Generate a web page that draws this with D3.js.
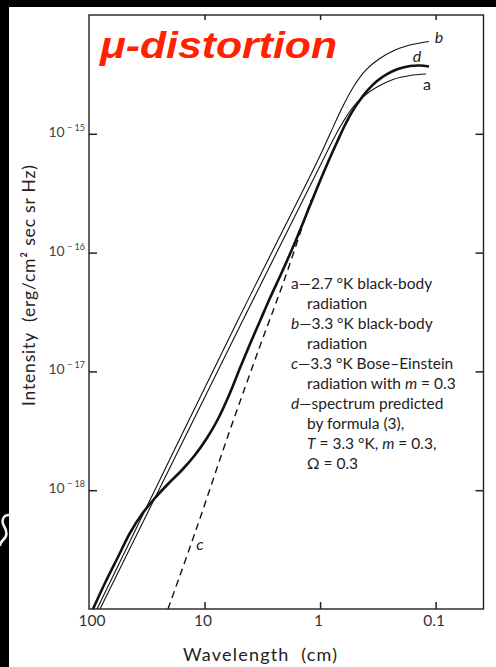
<!DOCTYPE html>
<html><head><meta charset="utf-8">
<script src="https://cdn.jsdelivr.net/npm/d3@7"></script>
<style>body{margin:0;background:#fff} svg{display:block}</style>
</head><body><svg id="chart" width="496" height="667"></svg>
<script>
// ---- data (wavelength in cm, intensity in erg/cm^2 sec sr Hz) ----
const wavelengthA = [80.30, 4.647, 0.9435, 0.7729, 0.6332, 0.5188, 0.4167, 0.3216, 0.2339, 0.1666, 0.1212];
const intensityA  = [1.0e-19, 2.707e-17, 6.018e-16, 8.867e-16, 1.256e-15, 1.681e-15, 2.081e-15, 2.477e-15, 2.864e-15, 3.095e-15, 3.186e-15];

const wavelengthB = [85.25, 5.133, 1.042, 0.8207, 0.6459, 0.5087, 0.4005, 0.3091, 0.2339, 0.1734, 0.1365, 0.1141];
const intensityB  = [1.0e-19, 2.707e-17, 6.018e-16, 9.961e-16, 1.649e-15, 2.526e-15, 3.444e-15, 4.263e-15, 4.978e-15, 5.537e-15, 5.810e-15, 5.981e-15];

const wavelengthC = [20.72, 11.855, 6.021, 3.311, 2.012, 1.198];
const intensityC  = [1.0e-19, 4.624e-19, 3.211e-18, 1.636e-17, 6.112e-17, 2.772e-16];

const wavelengthD = [92.34, 72.68, 56.11, 44.18, 34.77, 26.84, 20.72, 15.67, 12.094, 9.522, 7.645, 6.021, 4.933, 4.042, 3.311, 2.713, 2.136, 1.616, 1.198, 1.0016, 0.8372, 0.6998, 0.6085, 0.5293, 0.4513, 0.3848, 0.3216, 0.2635, 0.2117, 0.1666, 0.1365, 0.1141];
const intensityD  = [1.0e-19, 1.655e-19, 2.740e-19, 4.363e-19, 6.305e-19, 8.596e-19, 1.128e-18, 1.479e-18, 1.979e-18, 2.750e-18, 3.976e-18, 6.579e-18, 1.068e-17, 1.700e-17, 2.656e-17, 4.147e-17, 6.866e-17, 1.277e-16, 2.616e-16, 4.005e-16, 6.018e-16, 8.867e-16, 1.186e-15, 1.526e-15, 1.925e-15, 2.338e-15, 2.783e-15, 3.186e-15, 3.511e-15, 3.721e-15, 3.757e-15, 3.685e-15];

const xTicks = [100, 10, 1, 0.1];
const xTickLabels = ["100", "10", "1", "0.1"];
const yTicks = [1e-15, 1e-16, 1e-17, 1e-18];
const yTickExponents = ["15", "16", "17", "18"];

const titleText = "μ-distortion";
const xTitle = "Wavelength  (cm)";
const yTitle = "Intensity  (erg/cm² sec sr Hz)";

// legend: each line is a list of [text, italic?]
const legendLines = [
  [["a—2.7 °K black-body", 0]],
  [["radiation", 0]],
  [["b", 1], ["—3.3 °K black-body", 0]],
  [["radiation", 0]],
  [["c", 1], ["—3.3 °K Bose–Einstein", 0]],
  [["radiation with ", 0], ["m", 1], [" = 0.3", 0]],
  [["d", 1], ["—spectrum predicted", 0]],
  [["by formula (3),", 0]],
  [["T", 1], [" = 3.3 °K, ", 0], ["m", 1], [" = 0.3,", 0]],
  [["Ω = 0.3", 0]]
];
const legendIndent = [0, 1, 0, 1, 0, 1, 0, 1, 1, 1];

// ---- drawing ----
const W = 496, H = 667;
const L = 89, T = 15, R = 483.5, B = 609;
const svg = d3.select("#chart");
const font = "Lato, 'Open Sans', 'DejaVu Sans', sans-serif";

svg.append("rect").attr("width", W).attr("height", H).attr("fill", "#fff");
svg.append("rect").attr("x", 0).attr("y", 0).attr("width", W).attr("height", 7).attr("fill", "#000");
svg.append("rect").attr("x", 0).attr("y", 0).attr("width", 9).attr("height", H).attr("fill", "#000");
// scan artefact on the left border
svg.append("path").attr("d", "M9,515 C3,515 1,521 4,526 C7,531 8,536 3,540 C1,542 0,544 0,546")
  .attr("fill", "none").attr("stroke", "#eee").attr("stroke-width", 2.5);

const x = d3.scaleLog().domain([100, 0.0385]).range([L, R]);
const y = d3.scaleLog().domain([1e-19, 1e-14]).range([B, T]);

svg.append("defs").append("clipPath").attr("id", "plot")
  .append("rect").attr("x", L).attr("y", T).attr("width", R - L).attr("height", B - T);

// axes with inward ticks
function styleAxis(g) {
  g.select(".domain").remove();
  g.selectAll(".tick line").attr("stroke", "#222").attr("stroke-width", 1.5);
}
svg.append("g").attr("transform", `translate(0,${B})`)
  .call(d3.axisBottom(x).tickValues(xTicks.slice(1)).tickSize(-7).tickFormat("")).call(styleAxis);
svg.append("g").attr("transform", `translate(0,${T})`)
  .call(d3.axisTop(x).tickValues(xTicks.slice(1)).tickSize(-5).tickFormat("")).call(styleAxis);
svg.append("g").attr("transform", `translate(${L},0)`)
  .call(d3.axisLeft(y).tickValues(yTicks).tickSize(-8).tickFormat("")).call(styleAxis);
svg.append("g").attr("transform", `translate(${R},0)`)
  .call(d3.axisRight(y).tickValues(yTicks).tickSize(-8).tickFormat("")).call(styleAxis);

// frame
svg.append("rect").attr("x", L).attr("y", T).attr("width", R - L).attr("height", B - T)
  .attr("fill", "none").attr("stroke", "#222").attr("stroke-width", 1.4);

// tick labels
xTicks.forEach((v, i) => {
  svg.append("text").attr("x", x(v) + (i === 0 ? 3 : -1.5)).attr("y", 626)
    .attr("text-anchor", "middle").attr("font-family", font).attr("font-size", 15.5)
    .attr("fill", "#333").text(xTickLabels[i]);
});
yTicks.forEach((v, i) => {
  const t = svg.append("text").attr("x", 85).attr("y", y(v) + 3)
    .attr("text-anchor", "end").attr("font-family", font).attr("fill", "#444");
  t.append("tspan").attr("font-size", 14).text("10");
  t.append("tspan").attr("font-size", 9).attr("dy", -6).style("white-space", "pre").text(" − " + yTickExponents[i]);
});

// axis titles
svg.append("text").attr("x", 183).attr("y", 661)
  .attr("font-family", font).attr("font-size", 18).attr("fill", "#222")
  .attr("textLength", 154).attr("lengthAdjust", "spacing")
  .style("white-space", "pre").text(xTitle);
svg.append("text").attr("transform", "translate(35,406) rotate(-90)")
  .attr("font-family", font).attr("font-size", 17.5).attr("fill", "#222")
  .attr("textLength", 241).attr("lengthAdjust", "spacing")
  .style("white-space", "pre").text(yTitle);

// curves
const line = d3.line().x(d => x(d[0])).y(d => y(d[1])).curve(d3.curveCatmullRom.alpha(0.5));
const g = svg.append("g").attr("clip-path", "url(#plot)");
const curves = [
  {w: wavelengthA, v: intensityA, sw: 1.1, dash: null},
  {w: wavelengthB, v: intensityB, sw: 1.1, dash: null},
  {w: wavelengthC, v: intensityC, sw: 1.4, dash: "7,5"},
  {w: wavelengthD, v: intensityD, sw: 2.6, dash: null}
];
curves.forEach(c => {
  g.append("path").datum(c.w.map((w, i) => [w, c.v[i]]))
    .attr("d", line).attr("fill", "none").attr("stroke", "#111")
    .attr("stroke-width", c.sw).attr("stroke-dasharray", c.dash);
});

// curve letters
const curveLetters = [
  {t: "a", x: 427, y: 90, it: 0},
  {t: "b", x: 439, y: 43, it: 1},
  {t: "d", x: 417, y: 62, it: 1},
  {t: "c", x: 200, y: 550, it: 1}
];
curveLetters.forEach(c => {
  svg.append("text").attr("x", c.x).attr("y", c.y).attr("text-anchor", "middle")
    .attr("font-family", font).attr("font-size", 16).attr("font-style", c.it ? "italic" : "normal")
    .attr("fill", "#222").text(c.t);
});

// legend
legendLines.forEach((ln, i) => {
  const t = svg.append("text").attr("x", legendIndent[i] ? 307 : 291).attr("y", 289 + 20 * i)
    .attr("font-family", font).attr("font-size", 15.5).attr("fill", "#222").style("white-space", "pre");
  ln.forEach(seg => t.append("tspan").attr("font-style", seg[1] ? "italic" : "normal").text(seg[0]));
});

// title
svg.append("text").attr("x", 100).attr("y", 58)
  .attr("font-family", "'Liberation Sans', Arial, sans-serif").attr("font-weight", "bold")
  .attr("font-style", "italic").attr("font-size", 37).attr("fill", "#ff2200")
  .attr("textLength", 237).attr("lengthAdjust", "spacingAndGlyphs").text(titleText);
</script></body></html>
